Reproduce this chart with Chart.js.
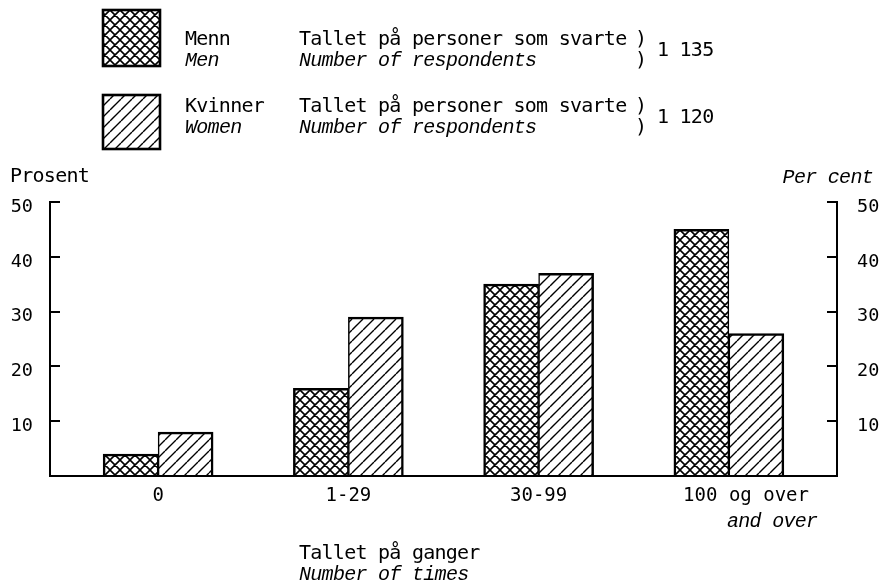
<!DOCTYPE html>
<html>
<head>
<meta charset="utf-8">
<script src="https://cdn.jsdelivr.net/npm/chart.js@4"></script>
<style>
    html, body { margin: 0; padding: 0; background: #fff; }
    #wrap { position: relative; width: 881px; height: 587px; overflow: hidden; }
    #chart { position: absolute; left: 0; top: 0; }
    .t { position: absolute; white-space: pre; color: #000; font-family: "DejaVu Sans Mono", monospace; font-size: 20px; letter-spacing: -0.75px; line-height: 19px; }
    .i { font-family: "Liberation Mono", monospace; font-style: italic; letter-spacing: -0.7px; }
</style>
</head>
<body>
<div id="wrap">
    <canvas id="chart" width="881" height="587"></canvas>
</div>
<script>
// Data
const categories = ['0', '1-29', '30-99', '100 og over'];
const menValues = [4, 16, 35, 45];
const womenValues = [8, 29, 37, 26];
const yTickValues = [10, 20, 30, 40, 50];
const seriesNames = ['Menn', 'Kvinner'];
const seriesNamesEn = ['Men', 'Women'];
const respondents = ['1 135', '1 120'];

const MONO = '"DejaVu Sans Mono", monospace';

// Hatch patterns: crosshatch for men, single diagonal for women
function makePattern(type) {
    const s = type === 'cross' ? 10 : 11;
    const c = document.createElement('canvas');
    c.width = s;
    c.height = s;
    const g = c.getContext('2d');
    g.fillStyle = '#fff';
    g.fillRect(0, 0, s, s);
    g.strokeStyle = '#000';
    g.lineWidth = type === 'cross' ? 1.6 : 1.4;
    g.beginPath();
    for (let k = -1; k <= 1; k++) {
        g.moveTo(k * s, s);
        g.lineTo(k * s + s, 0);
        if (type === 'cross') {
            g.moveTo(k * s, 0);
            g.lineTo(k * s + s, s);
        }
    }
    g.stroke();
    return g.createPattern(c, 'repeat');
}

const menFill = makePattern('cross');
const womenFill = makePattern('single');

// Pull the category centres in from the axis ends a little
const insetX = {
    id: 'insetX',
    afterLayout(chart) {
        const x = chart.scales.x;
        x._startPixel += 13;
        x._endPixel -= 13;
        x._length = x._endPixel - x._startPixel;
    }
};

// Legend swatches drawn with the same fills as the bars
const legendSwatches = {
    id: 'legendSwatches',
    afterDraw(chart) {
        const ctx = chart.ctx;
        const boxes = [[103, 10, 57, 56], [103, 95, 57, 54]];
        chart.data.datasets.forEach((ds, i) => {
            const [x, y, w, h] = boxes[i];
            ctx.save();
            ctx.fillStyle = ds.backgroundColor;
            ctx.fillRect(x, y, w, h);
            ctx.lineWidth = 2.6;
            ctx.strokeStyle = '#000';
            ctx.strokeRect(x, y, w, h);
            ctx.restore();
        });
    }
};

function yAxis(position, width, padding) {
    return {
        position: position,
        min: 0,
        max: 50,
        afterBuildTicks: s => { s.ticks = yTickValues.map(v => ({ value: v })); },
        afterFit: s => { s.width = width; },
        border: { display: true, color: '#000', width: 2, z: 1 },
        grid: { drawOnChartArea: false, drawTicks: true, tickLength: -10, color: '#000', lineWidth: 2 },
        ticks: { padding: padding, labelOffset: 5, color: '#000', font: { family: MONO, size: 18.5 } }
    };
}

new Chart(document.getElementById('chart'), {
    type: 'bar',
    data: {
        labels: categories,
        datasets: [
            {
                label: seriesNames[0],
                data: menValues,
                backgroundColor: menFill,
                borderColor: '#000',
                borderWidth: { top: 2.5, left: 2.5, right: 1.5, bottom: 0 },
                borderSkipped: 'start',
                barThickness: 55
            },
            {
                label: seriesNames[1],
                data: womenValues,
                backgroundColor: womenFill,
                borderColor: '#000',
                borderWidth: { top: 2.5, left: 1.5, right: 2.5, bottom: 0 },
                borderSkipped: 'start',
                barThickness: 55
            }
        ]
    },
    options: {
        responsive: false,
        animation: false,
        events: [],
        layout: { padding: { top: 202, left: 0, right: 0, bottom: 0 } },
        scales: {
            x: {
                offset: true,
                afterFit: s => { s.height = 111; },
                border: { display: true, color: '#000', width: 2, z: 1 },
                grid: { display: false, drawTicks: false },
                ticks: {
                    padding: 9,
                    maxRotation: 0,
                    autoSkip: false,
                    color: '#000',
                    font: { family: MONO, size: 19 },
                    callback: (v, i) => (i === categories.length - 1 ? '   ' : '') + categories[i]
                }
            },
            y: yAxis('left', 50, 27),
            y2: yAxis('right', 44, 30)
        },
        plugins: {
            legend: { display: false },
            tooltip: { enabled: false }
        }
    },
    plugins: [insetX, legendSwatches]
});

// Text labels around the chart
const wrap = document.getElementById('wrap');
function addText(str, left, baseline, italic, right) {
    const d = document.createElement('div');
    d.className = italic ? 't i' : 't';
    d.textContent = str;
    d.style.top = (baseline - (italic ? 14.8 : 16.4)) + 'px';
    if (right !== undefined) d.style.right = right + 'px';
    else d.style.left = left + 'px';
    wrap.appendChild(d);
}

seriesNames.forEach((name, i) => {
    const dy = i * 67;
    addText(name, 185, 45 + dy, false);
    addText(seriesNamesEn[i], 185, 66 + dy, true);
    addText('Tallet på personer som svarte', 299, 45 + dy, false);
    addText('Number of respondents', 299, 66 + dy, true);
    addText(')', 635, 45 + dy, false);
    addText(')', 635, 66 + dy, false);
    addText(respondents[i], 657, 56 + dy, false);
});

addText('Prosent', 10, 182, false);
addText('Per cent', 0, 183, true, 8);
addText('and over', 727, 527, true);
addText('Tallet på ganger', 299, 559, false);
addText('Number of times', 299, 580, true);
</script>
</body>
</html>
